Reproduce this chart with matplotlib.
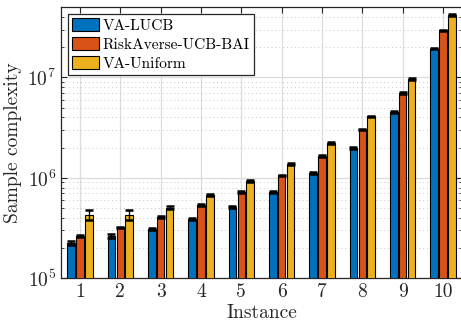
import numpy as np
import matplotlib
matplotlib.use("Agg")
import matplotlib.pyplot as plt
from matplotlib.ticker import LogLocator, NullFormatter

plt.rcParams["font.family"] = "serif"
plt.rcParams["font.serif"] = ["cmr10"]
plt.rcParams["mathtext.fontset"] = "cm"
plt.rcParams["axes.formatter.use_mathtext"] = True

instances = [1, 2, 3, 4, 5, 6, 7, 8, 9, 10]
series_names = ["VA-LUCB", "RiskAverse-UCB-BAI", "VA-Uniform"]

va_lucb = [2.26e5, 2.63e5, 3.12e5, 3.89e5, 5.16e5, 7.2e5, 1.12e6, 1.98e6, 4.55e6, 1.94e7]
riskaverse = [2.62e5, 3.22e5, 4.07e5, 5.36e5, 7.22e5, 1.06e6, 1.66e6, 3.04e6, 6.98e6, 2.94e7]
va_uniform = [4.27e5, 4.3e5, 5.04e5, 6.79e5, 9.36e5, 1.38e6, 2.23e6, 4.09e6, 9.62e6, 4.2e7]

va_lucb_err = [1.1e4, 1.3e4, 0.8e4, 1.0e4, 1.2e4, 1.6e4, 2.5e4, 4.0e4, 9e4, 3.5e5]
riskaverse_err = [0.5e4, 0.6e4, 0.8e4, 1.0e4, 1.4e4, 2.0e4, 3.2e4, 6e4, 1.4e5, 5e5]
va_uniform_err = [4.8e4, 4.5e4, 1.8e4, 2.0e4, 2.0e4, 3e4, 4.5e4, 8e4, 1.9e5, 8e5]

colors = ["#0072BD", "#D95319", "#EDB120"]
axis_color = "#262626"

fig = plt.figure(figsize=(4.61, 3.21), dpi=100)
W, H = 461, 321
ax = fig.add_axes([61 / W, 1 - 278.3 / H, 401 / W, 271 / H])
ax.set_yscale("log")

x = np.array(instances, dtype=float)
offset = 0.222
width = 0.19
data = [va_lucb, riskaverse, va_uniform]
errs = [va_lucb_err, riskaverse_err, va_uniform_err]
for i, (vals, e, c, name) in enumerate(zip(data, errs, colors, series_names)):
    pos = x + (i - 1) * offset
    ax.bar(pos, vals, width=width, color=c, edgecolor="black", linewidth=0.8,
           label=name, zorder=3)
    ax.errorbar(pos, vals, yerr=e, fmt="none", ecolor="black", elinewidth=1.0,
                capsize=2.6, capthick=1.8, zorder=4)

ax.set_xlim(1 - 19 / 40.33, 10 + 19 / 40.33)
ax.set_ylim(1e5, 5e7)
ax.set_xticks(instances)
ax.set_xticklabels([str(i) for i in instances])
ax.yaxis.set_major_locator(LogLocator(base=10, numticks=10))
ax.yaxis.set_minor_locator(LogLocator(base=10, subs=np.arange(2, 10), numticks=20))
ax.yaxis.set_minor_formatter(NullFormatter())

ax.grid(True, which="major", axis="both", color="#dcdcdc", linewidth=0.9, zorder=0)
ax.grid(True, which="minor", axis="y", color="#c8c8c8", linewidth=0.7,
        linestyle=(0, (1, 3)), zorder=0)
ax.set_axisbelow(True)

ax.tick_params(which="both", direction="in", top=True, right=True,
               color=axis_color, labelcolor=axis_color, labelsize=14)
ax.tick_params(which="major", length=4, width=0.8)
ax.tick_params(which="minor", length=2, width=0.6)
for s in ax.spines.values():
    s.set_color(axis_color)
    s.set_linewidth(0.9)

ax.set_xlabel("Instance", fontsize=14, color=axis_color, labelpad=2)
ax.set_ylabel("Sample complexity", fontsize=14, color=axis_color, labelpad=4)

leg = ax.legend(loc="upper left", bbox_to_anchor=(0.017, 0.975), fontsize=11.1,
                frameon=True, fancybox=False, borderaxespad=0,
                handlelength=1.75, handleheight=0.85, handletextpad=0.25,
                borderpad=0.27, labelspacing=0.3)
leg.get_frame().set_edgecolor(axis_color)
leg.get_frame().set_linewidth(0.9)
leg.get_frame().set_alpha(1.0)

fig.savefig("out.png", dpi=100)
